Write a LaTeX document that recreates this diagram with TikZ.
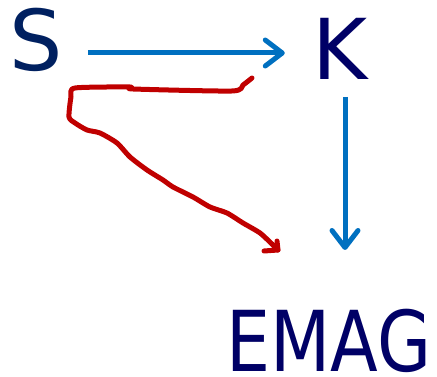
\documentclass[tikz,border=0pt]{standalone}
\usepackage{fontspec}
\setmainfont{DejaVu Sans}
\usetikzlibrary{arrows.meta}
\definecolor{navyS}{HTML}{002060}
\definecolor{navyK}{HTML}{000066}
\definecolor{arrblue}{HTML}{0070C0}
\definecolor{inkred}{HTML}{C00000}
\begin{document}
\begin{tikzpicture}[x=1pt,y=1pt,
  letter/.style={inner sep=0pt, anchor=base, font=\fontsize{84}{90}\selectfont},
  bluearrow/.style={draw=arrblue, line width=5pt, -{Straight Barb[length=17pt,width=26pt,line cap=round,line join=round]}},
  redink/.style={draw=inkred, line width=5pt, line cap=round, line join=round}]
\useasboundingbox (0,0) rectangle (437,377);
\node[letter, text=navyS] (S) at (36,306) {S};
\node[letter, text=navyK] (K) at (340,297) {K};
\node[letter, text=navyK, xscale=0.83, transform shape] (EMAG) at (329,5) {EMAG};
\draw[bluearrow] ([shift={(25pt,18pt)}]S.base east) -- ([shift={(-27.5pt,27pt)}]K.base west);
\draw[bluearrow] ([shift={(5pt,-17pt)}]K.base) -- (345,127);
\draw[redink] plot[smooth, tension=0.4] coordinates {
  (252,299) (243,292) (232,286) (133,288) (130,290) (75,289) (71,280) (69,260) (75,254)
  (87,247) (100,244) (117,234) (130,220) (147,207) (163,197) (173,190) (193,180)
  (210,170) (227,164) (243,154) (260,144) (273,132) (278,127)};
\draw[redink] (264,126) -- (278,127) -- (277,136);
\end{tikzpicture}
\end{document}
